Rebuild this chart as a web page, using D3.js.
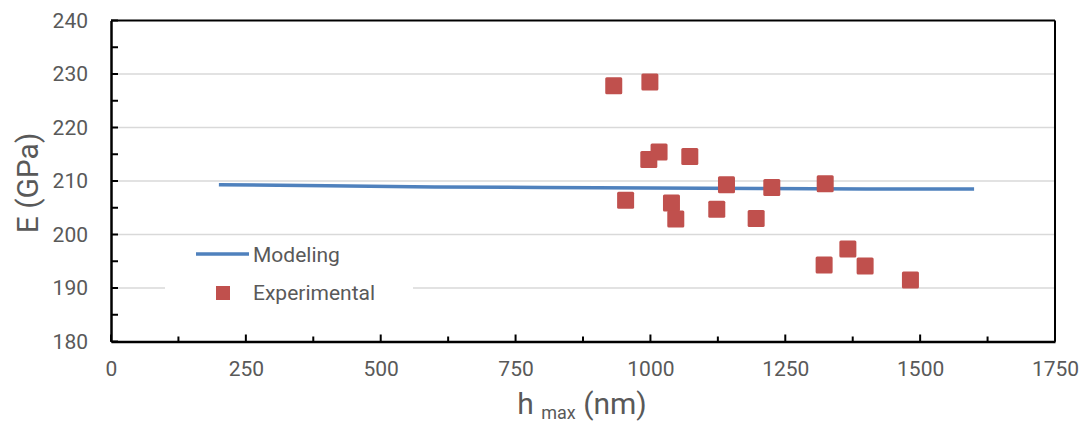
<!DOCTYPE html>
<html>
<head>
<meta charset="utf-8">
<script src="https://cdn.jsdelivr.net/npm/d3@7"></script>
<style>
  body { margin: 0; background: #fff; }
  text { font-family: Roboto, 'Liberation Sans', sans-serif; fill: #595959; }
</style>
</head>
<body>
<div id="chart"></div>
<script>
// modeling curve
let modelH = [200, 400, 600, 800, 1000, 1200, 1400, 1600]
let modelE = [209.3, 209.1, 208.9, 208.8, 208.7, 208.6, 208.5, 208.5]

// experimental points
let expH = [932, 999, 997, 1016, 1073, 954, 1039, 1047, 1141, 1123, 1196, 1225, 1324, 1322, 1366, 1398, 1482]
let expE = [227.8, 228.5, 214.0, 215.4, 214.6, 206.4, 205.9, 202.9, 209.3, 204.7, 203.0, 208.8, 209.5, 194.3, 197.3, 194.1, 191.5]

let xTicks = [0, 250, 500, 750, 1000, 1250, 1500, 1750]
let yTicks = [180, 190, 200, 210, 220, 230, 240]

let margin = { top: 20.5, left: 111, right: 33, bottom: 84.5 }
let width = 1088 - margin.left - margin.right
let height = 426 - margin.top - margin.bottom

let svg = d3
  .select('#chart')
  .append('svg')
  .attr('width', 1088)
  .attr('height', 426)

let g = svg.append('g')
  .attr('transform', 'translate(' + margin.left + ',' + margin.top + ')')

let xScale = d3.scaleLinear().domain([0, 1750]).range([0, width])
let yScale = d3.scaleLinear().domain([180, 240]).range([height, 0])

// gridlines
g.selectAll('.grid')
  .data(yTicks.slice(1, -1))
  .enter()
  .append('line')
  .attr('x1', 0)
  .attr('x2', width)
  .attr('y1', d => yScale(d))
  .attr('y2', d => yScale(d))
  .attr('stroke', '#d9d9d9')
  .attr('stroke-width', 1.5)

// frame top / right
g.append('line').attr('x1', 0).attr('x2', width).attr('y1', 0).attr('y2', 0)
  .attr('stroke', '#000').attr('stroke-width', 2)
g.append('line').attr('x1', width).attr('x2', width).attr('y1', 0).attr('y2', height)
  .attr('stroke', '#000').attr('stroke-width', 2)

// x axis
let xAxis = d3.axisBottom(xScale).tickValues(xTicks).tickFormat(d3.format('d')).tickSize(0).tickPadding(20)
let xg = g.append('g')
  .attr('transform', 'translate(0,' + height + ')')
  .call(xAxis)
xg.select('.domain').attr('stroke', '#000').attr('stroke-width', 2.5)
xg.selectAll('text').attr('font-size', 21).style('fill', '#595959')

// x tick marks (inside)
g.selectAll('.xtick')
  .data(d3.range(0, 1751, 125))
  .enter()
  .append('line')
  .attr('x1', d => xScale(d))
  .attr('x2', d => xScale(d))
  .attr('y1', height)
  .attr('y2', d => height - (d % 250 === 0 ? 7 : 5))
  .attr('stroke', '#000')
  .attr('stroke-width', 2)

// y axis
let yAxis = d3.axisLeft(yScale).tickValues(yTicks).tickSize(0).tickPadding(23)
let yg = g.append('g').call(yAxis)
yg.select('.domain').attr('stroke', '#000').attr('stroke-width', 2.5)
yg.selectAll('text').attr('font-size', 21).style('fill', '#595959')

g.selectAll('.ytick')
  .data(d3.range(180, 241, 5))
  .enter()
  .append('line')
  .attr('x1', 0)
  .attr('x2', 7)
  .attr('y1', d => yScale(d))
  .attr('y2', d => yScale(d))
  .attr('stroke', '#000')
  .attr('stroke-width', 2)

// legend backing
g.append('rect')
  .attr('x', 165 - margin.left)
  .attr('y', 238 - margin.top)
  .attr('width', 248)
  .attr('height', 62)
  .attr('fill', '#fff')

// modeling line
let line = d3.line()
  .x(d => xScale(d[0]))
  .y(d => yScale(d[1]))

g.append('path')
  .datum(modelH.map((h, i) => [h, modelE[i]]))
  .attr('d', line)
  .attr('fill', 'none')
  .attr('stroke', '#4f81bd')
  .attr('stroke-width', 3.5)

// experimental squares
let s = 17
g.selectAll('.pt')
  .data(expH.map((h, i) => [h, expE[i]]))
  .enter()
  .append('rect')
  .attr('x', d => xScale(d[0]) - s / 2)
  .attr('y', d => yScale(d[1]) - s / 2)
  .attr('width', s)
  .attr('height', s)
  .attr('rx', 1.5)
  .attr('fill', '#c0504d')

// legend
svg.append('line')
  .attr('x1', 196).attr('x2', 249).attr('y1', 254).attr('y2', 254)
  .attr('stroke', '#4f81bd').attr('stroke-width', 3.5)
svg.append('text').attr('x', 253).attr('y', 262).attr('font-size', 21).text('Modeling')
svg.append('rect')
  .attr('x', 216).attr('y', 286).attr('width', 14).attr('height', 14)
  .attr('fill', '#c0504d')
svg.append('text').attr('x', 253).attr('y', 300).attr('font-size', 21).text('Experimental')

// axis titles
svg.append('text')
  .attr('transform', 'translate(38,183) rotate(-90)')
  .attr('text-anchor', 'middle')
  .attr('font-size', 30)
  .text('E (GPa)')

let xt = svg.append('text')
  .attr('x', 582)
  .attr('y', 414)
  .attr('text-anchor', 'middle')
  .attr('font-size', 30)
xt.append('tspan').text('h ')
xt.append('tspan').attr('font-size', 18).attr('dy', 5).text('max')
xt.append('tspan').attr('dy', -5).text(' (nm)')
</script>
</body>
</html>
